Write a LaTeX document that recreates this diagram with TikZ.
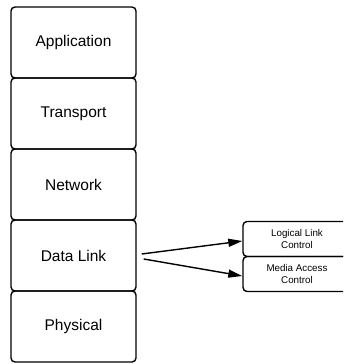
\documentclass[tikz,border=0pt]{standalone}
\usepackage{fontspec}
\setmainfont{Liberation Sans}
\usetikzlibrary{arrows.meta}
\begin{document}
\begin{tikzpicture}[x=1pt, y=-1pt, layer/.style={draw, line width=1.4pt, rounded corners=4pt, minimum width=125pt, minimum height=71pt, font=\fontsize{15.5}{18}\selectfont}, sublayer/.style={draw, line width=1.4pt, rounded corners=4pt, minimum width=108pt, minimum height=35pt, align=center, font=\fontsize{9.8}{11.5}\selectfont}, arrow/.style={line width=1.4pt, -{Triangle[length=14pt,width=8pt]}}]
       \clip (0, 0) rectangle (343, 364);
       \node[layer] (app) at (73.5, 42.5) {Application};
       \node[layer] (trans) at (73.5, 113.5) {Transport};
       \node[layer] (net) at (73.5, 184.5) {Network};
       \node[layer] (dl) at (73.5, 255.5) {Data Link};
       \node[layer] (phy) at (73.5, 326.5) {Physical};
       \node[sublayer] (llc) at (297, 239) {Logical Link\\Control};
       \node[sublayer] (mac) at (297, 274) {Media Access\\Control};
       
       \draw[arrow] ([xshift=5pt, yshift=1.5pt]dl.east) -- ([yshift=-2pt]llc.west);
       \draw[arrow] ([xshift=7pt, yshift=-3.5pt]dl.east) -- ([yshift=-2pt]mac.west);
     \end{tikzpicture}
\end{document}
